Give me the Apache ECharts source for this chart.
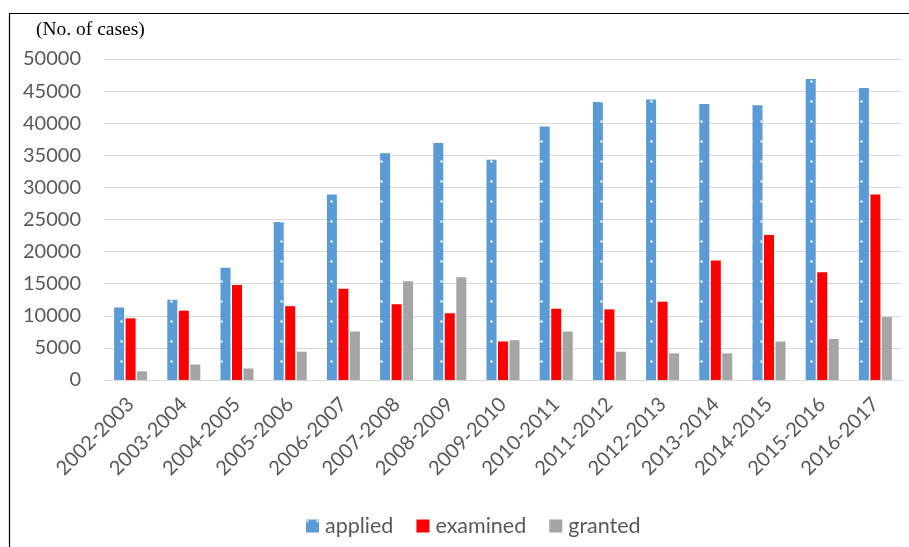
<!DOCTYPE html>
<html>
<head>
<meta charset="utf-8">
<script src="https://cdn.jsdelivr.net/npm/echarts@6/dist/echarts.min.js"></script>
<style>
  html, body { margin: 0; padding: 0; background: #fff; }
  #chart { width: 909px; height: 547px; }
</style>
</head>
<body>
<div id="chart"></div>
<script>
// Fiscal years
const categories = [
  '2002-2003', '2003-2004', '2004-2005', '2005-2006', '2006-2007',
  '2007-2008', '2008-2009', '2009-2010', '2010-2011', '2011-2012',
  '2012-2013', '2013-2014', '2014-2015', '2015-2016', '2016-2017'
];

// Number of cases per year
const applied = [
  11300, 12500, 17500, 24600, 28900, 35300, 36900, 34300, 39500, 43300,
  43700, 43000, 42800, 46900, 45500
];
const examined = [
  9600, 10800, 14800, 11500, 14200, 11800, 10400, 6000, 11100, 11000,
  12200, 18600, 22600, 16800, 28900
];
const granted = [
  1350, 2400, 1800, 4400, 7550, 15400, 16000, 6200, 7550, 4400,
  4150, 4150, 6000, 6400, 9800
];

const yTicks = { min: 0, max: 50000, interval: 5000 };

const chart = echarts.init(document.getElementById('chart'), null, { renderer: 'canvas' });

const labelFont = 'Lato, "Open Sans", sans-serif';
const labelColor = '#595959';

chart.setOption({
  animation: false,
  backgroundColor: '#ffffff',
  graphic: [
    {
      type: 'rect',
      shape: { x: 9.5, y: 13.5, width: 1200, height: 1200 },
      style: { fill: 'none', stroke: '#000000', lineWidth: 1.2 },
      silent: true
    },
    {
      type: 'text',
      left: 36,
      top: 20,
      style: {
        text: '(No. of cases)',
        font: '19.5px "Liberation Serif", "Times New Roman", serif',
        fill: '#000000'
      }
    }
  ],
  legend: {
    left: 301,
    top: 510,
    itemWidth: 13,
    itemHeight: 13,
    itemGap: 23,
    icon: 'rect',
    textStyle: { fontFamily: labelFont, fontSize: 21.5, color: labelColor, padding: [0, 0, 0, 1] },
    data: ['applied', 'examined', 'granted']
  },
  grid: {
    left: 104,
    right: 7,
    top: 59,
    bottom: 167,
    containLabel: false
  },
  xAxis: {
    type: 'category',
    data: categories,
    axisLine: { show: true, lineStyle: { color: '#d9d9d9', width: 1 } },
    axisTick: { show: false },
    axisLabel: {
      rotate: 45,
      interval: 0,
      margin: 21,
      fontFamily: labelFont,
      fontSize: 20,
      color: labelColor
    }
  },
  yAxis: {
    type: 'value',
    min: yTicks.min,
    max: yTicks.max,
    interval: yTicks.interval,
    axisLine: { show: false },
    axisTick: { show: false },
    splitLine: { lineStyle: { color: '#d9d9d9', width: 1 } },
    axisLabel: {
      margin: 23,
      fontFamily: labelFont,
      fontSize: 20,
      color: labelColor,
      formatter: function (v) { return String(v); }
    }
  },
  series: [
    {
      name: 'applied',
      type: 'bar',
      data: applied,
      barWidth: 10,
      barGap: '15%',
      itemStyle: {
        color: '#5B9BD5',
        decal: {
          symbol: 'circle',
          symbolSize: 0.9,
          color: 'rgba(255,255,255,0.85)',
          dashArrayX: [3, 7],
          dashArrayY: [3, 17],
          rotation: 0
        }
      }
    },
    {
      name: 'examined',
      type: 'bar',
      data: examined,
      barWidth: 10,
      barGap: '15%',
      itemStyle: { color: '#FF0000' }
    },
    {
      name: 'granted',
      type: 'bar',
      data: granted,
      barWidth: 10,
      barGap: '15%',
      itemStyle: { color: '#A5A5A5' }
    }
  ]
});
</script>
</body>
</html>
